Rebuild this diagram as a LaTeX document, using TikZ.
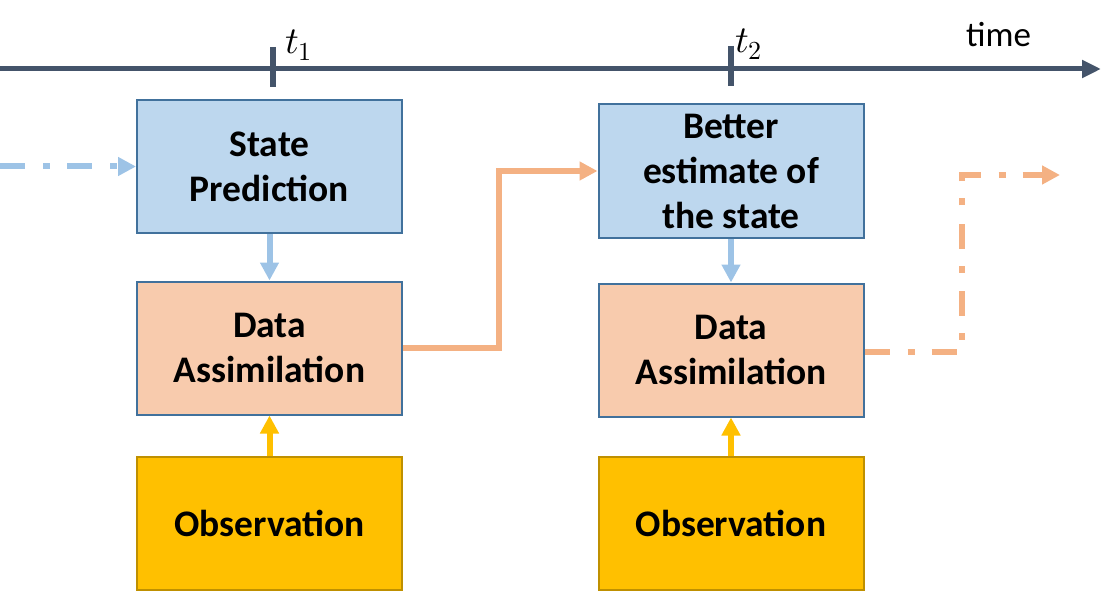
\documentclass[tikz,border=0pt]{standalone}
\usepackage{fontspec}
\setmainfont{Carlito}
\newfontfamily\lmmath{Latin Modern Math}
\usetikzlibrary{arrows.meta}
\definecolor{axiscol}{HTML}{44546A}
\definecolor{bluefill}{HTML}{BDD7EE}
\definecolor{boxline}{HTML}{41719C}
\definecolor{orfill}{HTML}{F8CBAD}
\definecolor{obsfill}{HTML}{FFC000}
\definecolor{obsline}{HTML}{BF9000}
\definecolor{bluearr}{HTML}{9DC3E6}
\definecolor{orarr}{HTML}{F4B183}
\newcommand{\tsym}[1]{{\lmmath\fontsize{38}{40}\selectfont 𝑡\raisebox{-7pt}{\fontsize{26}{26}\selectfont #1}}}
\begin{document}
\begin{tikzpicture}[x=1pt,y=-1pt,
  boxbase/.style={draw=boxline,line width=2pt,minimum width=265pt,minimum height=133pt,inner sep=0pt,align=center,font=\fontsize{37.5}{45}\selectfont\bfseries},
  predbox/.style={boxbase,fill=bluefill},
  assimbox/.style={boxbase,fill=orfill},
  obsbox/.style={boxbase,fill=obsfill,draw=obsline},
  axisline/.style={draw=axiscol,line width=5pt},
  tickmark/.style={draw=axiscol,line width=6pt},
  conn/.style={line width=6pt,-{Triangle[length=18pt,width=18pt]}},
  dashdot/.style={dash pattern=on 25pt off 18pt on 7pt off 17pt},
  lbl/.style={inner sep=0pt,anchor=base west}
]
\useasboundingbox (0,0) rectangle (1120,591);
% boxes
\node[predbox] (b1) at (269.5,166.5) {State\\Prediction};
\node[assimbox] (b2) at (269.5,348) {Data\\Assimilation};
\node[obsbox] (b3) at (269.5,523) {Observation};
\node[predbox,minimum height=134pt] (b4) at (731,171) {Better\\estimate of\\the state};
\node[assimbox] (b5) at (731,350) {Data\\Assimilation};
\node[obsbox] (b6) at (731,523) {Observation};
% timeline
\coordinate (ax0) at (0,69);
\coordinate (ax1) at (1101,69);
\draw[axisline,-{Triangle[length=19pt,width=17pt]}] (ax0) -- (ax1);
\coordinate (k1a) at (273,47); \coordinate (k1b) at (273,87);
\coordinate (k2a) at (731,46); \coordinate (k2b) at (731,86);
\draw[tickmark] (k1a) -- (k1b);
\draw[tickmark] (k2a) -- (k2b);
\node[lbl] (t1) at (285,54) {\tsym{1}};
\node[lbl] (t2) at (735,53) {\tsym{2}};
\node[lbl,font=\fontsize{35}{40}\selectfont] (tm) at (966,47) {time};
% connectors
\coordinate (s0) at (0,166.5);
\draw[conn,draw=bluearr,dashdot] (s0) -- (b1.west);
\draw[conn,draw=bluearr] (b1) -- (b2);
\draw[conn,draw=bluearr] (b4) -- (b5);
\draw[conn,draw=obsfill] (b3) -- (b2);
\draw[conn,draw=obsfill] (b6) -- (b5);
\coordinate (c1) at (499,171);
\draw[conn,draw=orarr] (b2.east) -| (c1) -- (b4.west);
\coordinate (c2) at (962,175);
\coordinate (e2) at (1060,175);
\draw[conn,draw=orarr,dashdot] ([yshift=-2pt]b5.east) -| (c2) -- (e2);
\end{tikzpicture}
\end{document}
